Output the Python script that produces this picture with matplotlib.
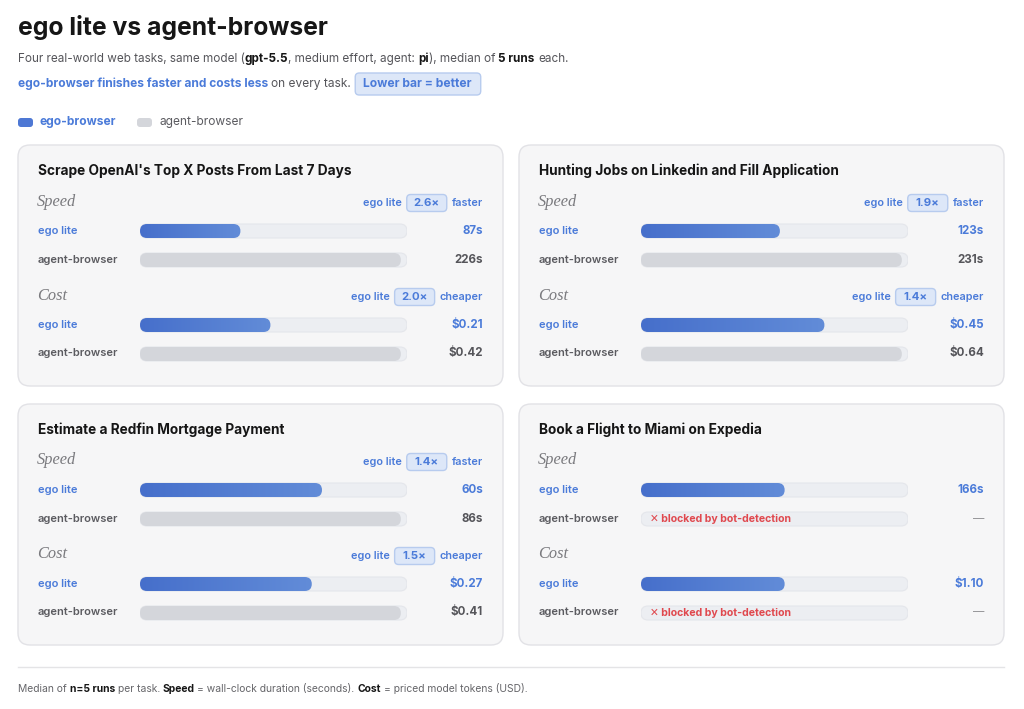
import matplotlib
matplotlib.use("Agg")
import matplotlib.pyplot as plt
from matplotlib.patches import FancyBboxPatch
import numpy as np

# ---------------- data ----------------
tasks = ["Scrape OpenAI's Top X Posts From Last 7 Days",
         "Hunting Jobs on Linkedin and Fill Application",
         "Estimate a Redfin Mortgage Payment",
         "Book a Flight to Miami on Expedia"]
speed_ego = [87, 123, 60, 166]
speed_agent = [226, 231, 86, None]        # None = blocked
cost_ego = [0.21, 0.45, 0.27, 1.10]
cost_agent = [0.42, 0.64, 0.41, None]
bar_share = [0.977, 0.977, 0.977, 0.538]  # share of track used by the longest bar
row_labels = ["ego lite", "agent-browser"]
legend_labels = ["ego-browser", "agent-browser"]
metric_names = ["Speed", "Cost"]
metric_words = ["faster", "cheaper"]
blocked_text = "\u2715 blocked by bot-detection"

# ---------------- style ----------------
W, H = 1024, 709
FONT = ["Inter", "DejaVu Sans"]
BLUE = "#4b7bd9"
DARK = "#161616"
GRAY_T = "#5b5b60"
SUB_T = "#55555a"
CARD_F, CARD_E = "#f6f6f7", "#e2e2e6"
TRACK_F, TRACK_E = "#eceef2", "#e4e6eb"
GRAY_BAR = "#d4d6db"
BADGE_F, BADGE_E = "#dde7f8", "#b7cbee"
RED = "#e0484e"
G0, G1 = np.array([0x46, 0x6f, 0xcb]) / 255, np.array([0x62, 0x8c, 0xd8]) / 255

plt.rcParams['font.family'] = FONT
fig = plt.figure(figsize=(W / 100, H / 100), dpi=100)
fig.patch.set_facecolor("white")
ax = fig.add_axes([0, 0, 1, 1])
ax.set_xlim(0, W)
ax.set_ylim(H, 0)
ax.axis("off")
renderer = fig.canvas.get_renderer()


def tw(t):
    return t.get_window_extent(renderer=renderer).width


def runs(x, y, pieces, size, gap=None):
    if gap is None:
        gap = size * 100 / 72 * 0.27
    for i, (s, kw) in enumerate(pieces):
        t = ax.text(x, y, s, va="center", ha="left", fontsize=size, **kw)
        x += tw(t)
        if i < len(pieces) - 1 and not pieces[i + 1][0].startswith((",", ")", ".")) and not s.endswith("("):
            x += gap
    return x


def rbox(a, x, y, w, h, r, fc, ec, lw=1.0, z=1, aspect=1.0, **kw):
    p = FancyBboxPatch((x, y), w, h, boxstyle=f"round,pad=0,rounding_size={r}",
                       mutation_aspect=aspect, fc=fc, ec=ec, lw=lw, zorder=z, **kw)
    a.add_patch(p)
    return p


# ---------------- header ----------------
ax.text(18, 27, "ego lite vs agent-browser", fontsize=17.8, fontweight="bold",
        color=DARK, va="center", ha="left")
runs(18, 59, [("Four real-world web tasks, same model (", dict(color=SUB_T)),
              ("gpt-5.5", dict(color=DARK, fontweight="bold")),
              (", medium effort, agent:", dict(color=SUB_T)),
              ("pi", dict(color=DARK, fontweight="bold")),
              ("), median of", dict(color=SUB_T)),
              ("5 runs", dict(color=DARK, fontweight="bold")),
              ("each.", dict(color=SUB_T))], 8.45)
xe = runs(18, 84, [("ego-browser finishes faster and costs less", dict(color=BLUE, fontweight="bold")),
                   ("on every task.", dict(color=SUB_T))], 8.6)
bt = ax.text(xe + 12, 84, "Lower bar = better", fontsize=8.7, fontweight="bold",
             color=BLUE, va="center", ha="left", zorder=3)
bw = tw(bt)
rbox(ax, xe + 4, 73, bw + 17, 22, 4, BADGE_F, BADGE_E, z=2)

# legend
rbox(ax, 18, 118, 15, 9, 3, "#4e78d4", "none")
ax.text(40, 122.5, legend_labels[0], fontsize=8.6, fontweight="bold", color=BLUE, va="center")
rbox(ax, 137, 118, 15, 9, 3, GRAY_BAR, "none")
ax.text(160, 122.5, legend_labels[1], fontsize=8.6, color=GRAY_T, va="center")

# ---------------- cards ----------------
card_pos = [(18, 145), (519, 145), (18, 404), (519, 404)]
CW, CH = 485, 241
TX0, TW = 122, 267
row_dy = [[86, 115], [180, 208]]
head_dy = [56, 150]

for i, (cx, cy) in enumerate(card_pos):
    rbox(ax, cx, cy, CW, CH, 12, CARD_F, CARD_E, lw=1.0, z=0.5)
    ax.text(cx + 20, cy + 26, tasks[i], fontsize=9.85, fontweight="bold",
            color=DARK, va="center", ha="left")
    metrics = [(speed_ego[i], speed_agent[i], lambda v: f"{v:.0f}s"),
               (cost_ego[i], cost_agent[i], lambda v: f"${v:.2f}")]
    for m, (ve, va_, fmt) in enumerate(metrics):
        hy = cy + head_dy[m]
        ax.text(cx + 19, hy + 0.5, metric_names[m], fontsize=11.8, fontstyle="italic",
                family=["Liberation Serif"], color="#7a7a7e", va="center", ha="left")
        if va_ is not None:
            ratio = va_ / ve
            right = cx + 465
            t = ax.text(right, hy + 2, metric_words[m], fontsize=7.8, fontweight="semibold",
                        color=BLUE, va="center", ha="right")
            b_r = right - tw(t) - 5
            b_l = b_r - 40
            rbox(ax, b_l, hy + 2 - 8.5, 40, 17, 4, BADGE_F, BADGE_E, z=2)
            ax.text((b_l + b_r) / 2, hy + 2, f"{ratio:.1f}\u00d7", fontsize=8.2, fontweight="bold",
                    color=BLUE, va="center", ha="center", zorder=3)
            ax.text(b_l - 5, hy + 2, row_labels[0], fontsize=7.8, fontweight="semibold",
                    color=BLUE, va="center", ha="right")
        # row labels and values
        vals = [ve, va_]
        for r in range(2):
            ry = cy + row_dy[m][r]
            ax.text(cx + 20, ry, row_labels[r], fontsize=8, fontweight="semibold",
                    color=BLUE if r == 0 else GRAY_T, va="center", ha="left")
            if vals[r] is None:
                ax.text(cx + 465, ry, "\u2014", fontsize=8.2, color="#8a8a8e",
                        va="center", ha="right")
            else:
                ax.text(cx + 465, ry, fmt(vals[r]), fontsize=8.3, fontweight="bold",
                        color=BLUE if r == 0 else SUB_T, va="center", ha="right")
        # bar axes
        y_top = cy + row_dy[m][0] - 14.5
        bax = fig.add_axes([(cx + TX0) / W, 1 - (y_top + 58) / H, TW / W, 58 / H])
        bax.set_autoscale_on(False)
        known = [v for v in vals if v is not None]
        S = max(known) / bar_share[i]
        bax.set_xlim(0, S)
        bax.set_ylim(1.5, -0.5)
        bax.axis("off")
        bax.patch.set_alpha(0)
        xu = S / TW       # data units per px in x
        yu = 1 / 29.0     # data units per px in y
        asp = yu / xu
        bh = 14 * yu
        for r in range(2):
            rbox(bax, 0, r - bh / 2, S, bh, 7 * xu, TRACK_F, TRACK_E, lw=0.8, z=1, aspect=asp)
            v = vals[r]
            if v is None:
                bax.annotate(blocked_text, xy=(0, r), xytext=(9, 0), textcoords="offset pixels",
                             fontsize=7.6, fontweight="bold", color=RED, va="center", ha="left",
                             zorder=3)
                continue
            if r == 0:
                p = rbox(bax, 0, r - bh / 2, v, bh, 7 * xu, "none", "none", lw=0, z=2, aspect=asp)
                grad = np.linspace(0, 1, 256)
                img = G0[None, None, :] * (1 - grad)[None, :, None] + G1[None, None, :] * grad[None, :, None]
                im = bax.imshow(img, extent=[0, v, r + bh / 2, r - bh / 2], aspect="auto",
                                zorder=2, interpolation="bilinear")
                im.set_clip_path(p)
            else:
                rbox(bax, 0, r - bh / 2, v, bh, 7 * xu, GRAY_BAR, "none", lw=0, z=2, aspect=asp)

# ---------------- footer ----------------
ax.plot([18, 1004], [667, 667], color="#e4e4e6", lw=1)
runs(18, 689, [("Median of", dict(color="#66666a")),
               ("n=5 runs", dict(color=DARK, fontweight="bold")),
               ("per task.", dict(color="#66666a")),
               ("Speed", dict(color=DARK, fontweight="bold")),
               ("= wall-clock duration (seconds).", dict(color="#66666a")),
               ("Cost", dict(color=DARK, fontweight="bold")),
               ("= priced model tokens (USD).", dict(color="#66666a"))], 7.45)

fig.savefig("out.png", dpi=100, facecolor="white")
